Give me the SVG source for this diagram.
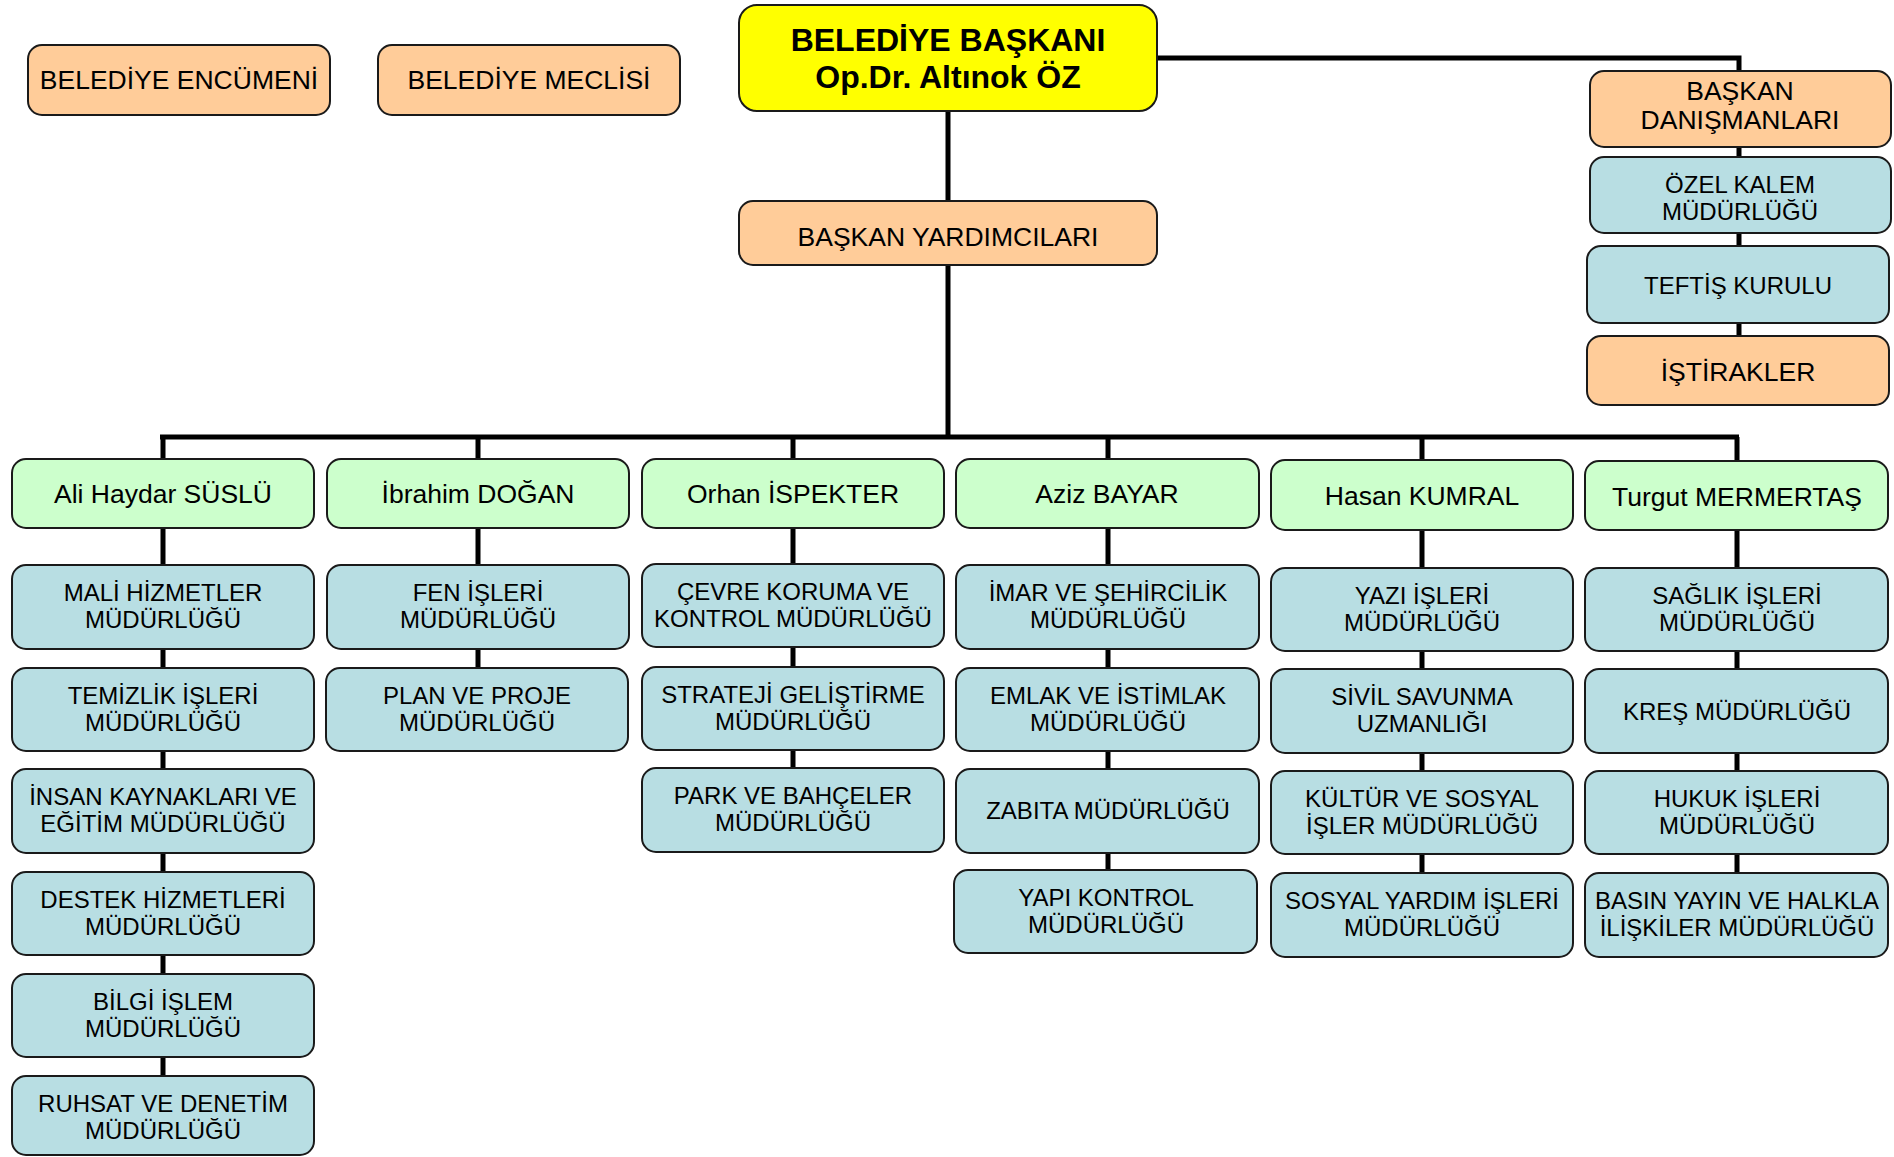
<svg xmlns="http://www.w3.org/2000/svg" width="1894" height="1157" viewBox="0 0 1894 1157">
<style>
rect{stroke:#1a1a1a;stroke-width:2}
.o{fill:#FFCC99}
.y{fill:#FFFF00}
.g{fill:#CCFFCC}
.b{fill:#B8DEE3}
text{font-family:"Liberation Sans",Arial,sans-serif;fill:#000;text-anchor:middle}
.t26{font-size:26.5px}
.t23{font-size:24px}
.tb{font-size:32px;font-weight:bold}
.c{stroke:#000;stroke-width:5;fill:none}
</style>
<rect width="1894" height="1157" fill="#fff" style="stroke:none"/>
<g id="connectors">
<path class="c" d="M948 111V437M160 437H1739M163 437V1076M478 437V668M793 437V768M1108 437V870M1422 437V873M1737 437V873"/>
<path class="c" d="M1157 58H1739V336"/>
</g>
<g id="encumen"><rect class="o" x="28" y="45" width="302" height="70" rx="14"/><text class="t26" x="179" y="89">BELEDİYE ENCÜMENİ</text></g>
<g id="meclis"><rect class="o" x="378" y="45" width="302" height="70" rx="14"/><text class="t26" x="529" y="89">BELEDİYE MECLİSİ</text></g>
<g id="baskan"><rect class="y" x="739" y="5" width="418" height="106" rx="18"/><text class="tb" x="948" y="51">BELEDİYE BAŞKANI</text><text class="tb" x="948" y="88">Op.Dr. Altınok ÖZ</text></g>
<g id="yardimcilar"><rect class="o" x="739" y="201" width="418" height="64" rx="14"/><text class="t26" x="948" y="246">BAŞKAN YARDIMCILARI</text></g>
<g id="danismanlar"><rect class="o" x="1590" y="71" width="301" height="76" rx="14"/><text class="t26" x="1740" y="100">BAŞKAN</text><text class="t26" x="1740" y="129">DANIŞMANLARI</text></g>
<g id="ozelkalem"><rect class="b" x="1590" y="157" width="301" height="76" rx="14"/><text class="t23" x="1740" y="193">ÖZEL KALEM</text><text class="t23" x="1740" y="220">MÜDÜRLÜĞÜ</text></g>
<g id="teftis"><rect class="b" x="1587" y="246" width="302" height="77" rx="14"/><text class="t23" x="1738" y="294">TEFTİŞ KURULU</text></g>
<g id="istirakler"><rect class="o" x="1587" y="336" width="302" height="69" rx="14"/><text class="t26" x="1738" y="381">İŞTİRAKLER</text></g>

<g id="ali"><rect class="g" x="12" y="459" width="302" height="69" rx="14"/><text class="t26" x="163" y="503">Ali Haydar SÜSLÜ</text></g>
<g id="mali"><rect class="b" x="12" y="565" width="302" height="84" rx="14"/><text class="t23" x="163" y="601">MALİ HİZMETLER</text><text class="t23" x="163" y="628">MÜDÜRLÜĞÜ</text></g>
<g id="temizlik"><rect class="b" x="12" y="668" width="302" height="83" rx="14"/><text class="t23" x="163" y="704">TEMİZLİK İŞLERİ</text><text class="t23" x="163" y="731">MÜDÜRLÜĞÜ</text></g>
<g id="insan"><rect class="b" x="12" y="769" width="302" height="84" rx="14"/><text class="t23" x="163" y="805">İNSAN KAYNAKLARI VE</text><text class="t23" x="163" y="832">EĞİTİM MÜDÜRLÜĞÜ</text></g>
<g id="destek"><rect class="b" x="12" y="872" width="302" height="83" rx="14"/><text class="t23" x="163" y="908">DESTEK HİZMETLERİ</text><text class="t23" x="163" y="935">MÜDÜRLÜĞÜ</text></g>
<g id="bilgi"><rect class="b" x="12" y="974" width="302" height="83" rx="14"/><text class="t23" x="163" y="1010">BİLGİ İŞLEM</text><text class="t23" x="163" y="1037">MÜDÜRLÜĞÜ</text></g>
<g id="ruhsat"><rect class="b" x="12" y="1076" width="302" height="79" rx="14"/><text class="t23" x="163" y="1112">RUHSAT VE DENETİM</text><text class="t23" x="163" y="1139">MÜDÜRLÜĞÜ</text></g>

<g id="ibrahim"><rect class="g" x="327" y="459" width="302" height="69" rx="14"/><text class="t26" x="478" y="503">İbrahim DOĞAN</text></g>
<g id="fen"><rect class="b" x="327" y="565" width="302" height="84" rx="14"/><text class="t23" x="478" y="601">FEN İŞLERİ</text><text class="t23" x="478" y="628">MÜDÜRLÜĞÜ</text></g>
<g id="plan"><rect class="b" x="326" y="668" width="302" height="83" rx="14"/><text class="t23" x="477" y="704">PLAN VE PROJE</text><text class="t23" x="477" y="731">MÜDÜRLÜĞÜ</text></g>

<g id="orhan"><rect class="g" x="642" y="459" width="302" height="69" rx="14"/><text class="t26" x="793" y="503">Orhan İSPEKTER</text></g>
<g id="cevre"><rect class="b" x="642" y="564" width="302" height="83" rx="14"/><text class="t23" x="793" y="600">ÇEVRE KORUMA VE</text><text class="t23" x="793" y="627">KONTROL MÜDÜRLÜĞÜ</text></g>
<g id="strateji"><rect class="b" x="642" y="667" width="302" height="83" rx="14"/><text class="t23" x="793" y="703">STRATEJİ GELİŞTİRME</text><text class="t23" x="793" y="730">MÜDÜRLÜĞÜ</text></g>
<g id="park"><rect class="b" x="642" y="768" width="302" height="84" rx="14"/><text class="t23" x="793" y="804">PARK VE BAHÇELER</text><text class="t23" x="793" y="831">MÜDÜRLÜĞÜ</text></g>

<g id="aziz"><rect class="g" x="956" y="459" width="303" height="69" rx="14"/><text class="t26" x="1107" y="503">Aziz BAYAR</text></g>
<g id="imar"><rect class="b" x="956" y="565" width="303" height="84" rx="14"/><text class="t23" x="1108" y="601">İMAR VE ŞEHİRCİLİK</text><text class="t23" x="1108" y="628">MÜDÜRLÜĞÜ</text></g>
<g id="emlak"><rect class="b" x="956" y="668" width="303" height="83" rx="14"/><text class="t23" x="1108" y="704">EMLAK VE İSTİMLAK</text><text class="t23" x="1108" y="731">MÜDÜRLÜĞÜ</text></g>
<g id="zabita"><rect class="b" x="956" y="769" width="303" height="84" rx="14"/><text class="t23" x="1108" y="819">ZABITA MÜDÜRLÜĞÜ</text></g>
<g id="yapi"><rect class="b" x="954" y="870" width="303" height="83" rx="14"/><text class="t23" x="1106" y="906">YAPI KONTROL</text><text class="t23" x="1106" y="933">MÜDÜRLÜĞÜ</text></g>

<g id="hasan"><rect class="g" x="1271" y="460" width="302" height="70" rx="14"/><text class="t26" x="1422" y="505">Hasan KUMRAL</text></g>
<g id="yazi"><rect class="b" x="1271" y="568" width="302" height="83" rx="14"/><text class="t23" x="1422" y="604">YAZI İŞLERİ</text><text class="t23" x="1422" y="631">MÜDÜRLÜĞÜ</text></g>
<g id="sivil"><rect class="b" x="1271" y="669" width="302" height="84" rx="14"/><text class="t23" x="1422" y="705">SİVİL SAVUNMA</text><text class="t23" x="1422" y="732">UZMANLIĞI</text></g>
<g id="kultur"><rect class="b" x="1271" y="771" width="302" height="83" rx="14"/><text class="t23" x="1422" y="807">KÜLTÜR VE SOSYAL</text><text class="t23" x="1422" y="834">İŞLER MÜDÜRLÜĞÜ</text></g>
<g id="sosyal"><rect class="b" x="1271" y="873" width="302" height="84" rx="14"/><text class="t23" x="1422" y="909">SOSYAL YARDIM İŞLERİ</text><text class="t23" x="1422" y="936">MÜDÜRLÜĞÜ</text></g>

<g id="turgut"><rect class="g" x="1585" y="461" width="303" height="69" rx="14"/><text class="t26" x="1737" y="506">Turgut MERMERTAŞ</text></g>
<g id="saglik"><rect class="b" x="1585" y="568" width="303" height="83" rx="14"/><text class="t23" x="1737" y="604">SAĞLIK İŞLERİ</text><text class="t23" x="1737" y="631">MÜDÜRLÜĞÜ</text></g>
<g id="kres"><rect class="b" x="1585" y="669" width="303" height="84" rx="14"/><text class="t23" x="1737" y="720">KREŞ MÜDÜRLÜĞÜ</text></g>
<g id="hukuk"><rect class="b" x="1585" y="771" width="303" height="83" rx="14"/><text class="t23" x="1737" y="807">HUKUK İŞLERİ</text><text class="t23" x="1737" y="834">MÜDÜRLÜĞÜ</text></g>
<g id="basin"><rect class="b" x="1585" y="873" width="303" height="84" rx="14"/><text class="t23" x="1737" y="909">BASIN YAYIN VE HALKLA</text><text class="t23" x="1737" y="936">İLİŞKİLER MÜDÜRLÜĞÜ</text></g>
</svg>
